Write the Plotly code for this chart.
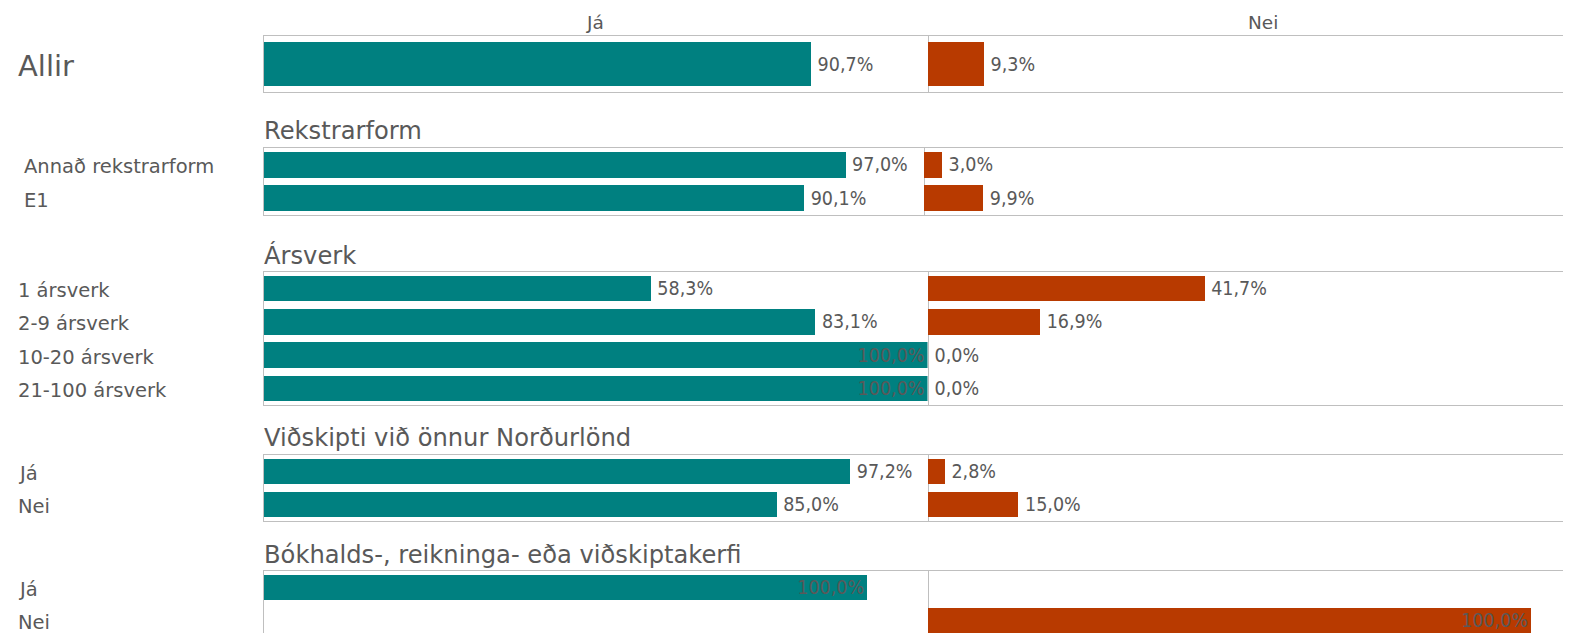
import plotly.graph_objects as go

# ---------------- data ----------------
column_headers = ["Já", "Nei"]

group_titles = ["", "Rekstrarform", "Ársverk", "Viðskipti við önnur Norðurlönd",
                "Bókhalds-, reikninga- eða viðskiptakerfi"]

allir_labels = ["Allir"]
allir_ja = [90.7]
allir_nei = [9.3]

rekstrar_labels = ["Annað rekstrarform", "E1"]
rekstrar_ja = [97.0, 90.1]
rekstrar_nei = [3.0, 9.9]

arsverk_labels = ["1 ársverk", "2-9 ársverk", "10-20 ársverk", "21-100 ársverk"]
arsverk_ja = [58.3, 83.1, 100.0, 100.0]
arsverk_nei = [41.7, 16.9, 0.0, 0.0]

vidsk_labels = ["Já", "Nei"]
vidsk_ja = [97.2, 85.0]
vidsk_nei = [2.8, 15.0]

bokh_labels = ["Já", "Nei"]
bokh_ja = [100.0, None]
bokh_nei = [None, 100.0]

# ---------------- styling / layout ----------------
# The page body has an 8px margin, so the figure is positioned with that offset;
# the figure is larger than the window, so the right and bottom edges are cut off.
OFF = 8
FW, FH = 1600, 660
TEAL = "#008080"
RED = "#B83A00"
TXT = "#595959"
LINE = "#BFBFBF"
FONT = "DejaVu Sans"
VFONT = "DejaVu Sans Condensed"


def px(x):
    return (x - OFF) / FW


def py(y):
    return 1 - (y - OFF) / FH


groups = [
    dict(labels=allir_labels, ja=allir_ja, nei=allir_nei, top=36, bot=92, xmax=110,
         div=927.5, lab_x=18, lab_size=29, bw=0.78, title_y=None),
    dict(labels=rekstrar_labels, ja=rekstrar_ja, nei=rekstrar_nei, top=148, bot=215, xmax=110,
         div=923.5, lab_x=24, lab_size=19.5, bw=0.77, title_y=131),
    dict(labels=arsverk_labels, ja=arsverk_ja, nei=arsverk_nei, top=272, bot=405, xmax=100,
         div=927.5, lab_x=18, lab_size=19.5, bw=0.77, title_y=256),
    dict(labels=vidsk_labels, ja=vidsk_ja, nei=vidsk_nei, top=455, bot=521, xmax=110,
         div=927.5, lab_x=18, lab_size=19.5, bw=0.77, title_y=438),
    dict(labels=bokh_labels, ja=bokh_ja, nei=bokh_nei, top=571, bot=637, xmax=110,
         div=927.5, lab_x=18, lab_size=19.5, bw=0.77, title_y=555),
]

LEFT = 264
RIGHT = 1591  # the Nei panel continues past the visible window
PAD = 2       # annotation inner padding
HEADER_X = [595, 1263]

fig = go.Figure()
layout = dict(
    width=FW, height=FH,
    margin=dict(l=0, r=0, t=0, b=0),
    paper_bgcolor="white", plot_bgcolor="white",
    showlegend=False, separators=",.",
    font=dict(family=FONT, color=TXT),
    hovermode=False,
    annotations=[], bargap=0,
)


def text_positions(vals):
    return ["inside" if (v is not None and v >= 100) else "outside" for v in vals]


for g, grp in enumerate(groups):
    xa = 2 * g + 1
    xb = 2 * g + 2
    ya = g + 1
    xa_name = "xaxis" if xa == 1 else f"xaxis{xa}"
    xb_name = f"xaxis{xb}"
    ya_name = "yaxis" if ya == 1 else f"yaxis{ya}"
    xa_ref = "x" if xa == 1 else f"x{xa}"
    xb_ref = f"x{xb}"
    ya_ref = "y" if ya == 1 else f"y{ya}"

    n = len(grp["labels"])
    top, bot, div = grp["top"], grp["bot"], grp["div"]
    ja_w = div - LEFT
    nei_left = div + 0.5
    nei_max = grp["xmax"] * (RIGHT - nei_left) / ja_w

    for vals, xref, color in ((grp["ja"], xa_ref, TEAL), (grp["nei"], xb_ref, RED)):
        fig.add_trace(go.Bar(
            x=vals, y=grp["labels"], orientation="h",
            xaxis=xref, yaxis=ya_ref,
            marker=dict(color=color, line=dict(width=0)),
            width=grp["bw"],
            texttemplate="\u2009%{x:.1f}%",
            textposition=text_positions(vals),
            insidetextanchor="end",
            textfont=dict(family=VFONT, size=19.5, color=TXT),
            insidetextfont=dict(family=VFONT, size=19.5, color=TXT),
            outsidetextfont=dict(family=VFONT, size=19.5, color=TXT),
            constraintext="none",
            cliponaxis=False,
        ))

    common_x = dict(showgrid=False, zeroline=False, showticklabels=False, ticks="",
                    showline=True, mirror=True, linecolor=LINE, linewidth=1.3,
                    fixedrange=True, anchor=ya_ref)
    layout[xa_name] = dict(common_x, domain=[px(LEFT), px(div)], range=[0, grp["xmax"]])
    layout[xb_name] = dict(common_x, domain=[px(nei_left), px(RIGHT)], range=[0, nei_max])
    layout[ya_name] = dict(domain=[py(bot), py(top)], anchor=xa_ref, type="category",
                           categoryarray=grp["labels"], range=[n - 0.5, -0.5],
                           showgrid=False, zeroline=False, showticklabels=False,
                           ticks="", showline=True, mirror=True, linecolor=LINE,
                           linewidth=1.3, fixedrange=True)

    for lab in grp["labels"]:
        layout["annotations"].append(dict(
            text=lab, xref="paper", x=px(grp["lab_x"] - PAD), xanchor="left",
            yref=ya_ref, y=lab, yanchor="middle", yshift=-2, showarrow=False,
            font=dict(family=FONT, size=grp["lab_size"], color=TXT)))

    if grp["title_y"] is not None:
        layout["annotations"].append(dict(
            text=group_titles[g], xref="paper", x=px(LEFT - PAD), xanchor="left",
            yref="paper", y=py(grp["title_y"]), yanchor="middle", showarrow=False,
            font=dict(family=FONT, size=24.2, color=TXT)))

# column headers
for hdr, cx in zip(column_headers, HEADER_X):
    layout["annotations"].append(dict(
        text=hdr, xref="paper", x=px(cx), xanchor="center",
        yref="paper", y=py(23), yanchor="middle", showarrow=False,
        font=dict(family=FONT, size=18.5, color=TXT)))

fig.update_layout(**layout)
fig.write_html("out.html", config=dict(displayModeBar=False, staticPlot=True))
